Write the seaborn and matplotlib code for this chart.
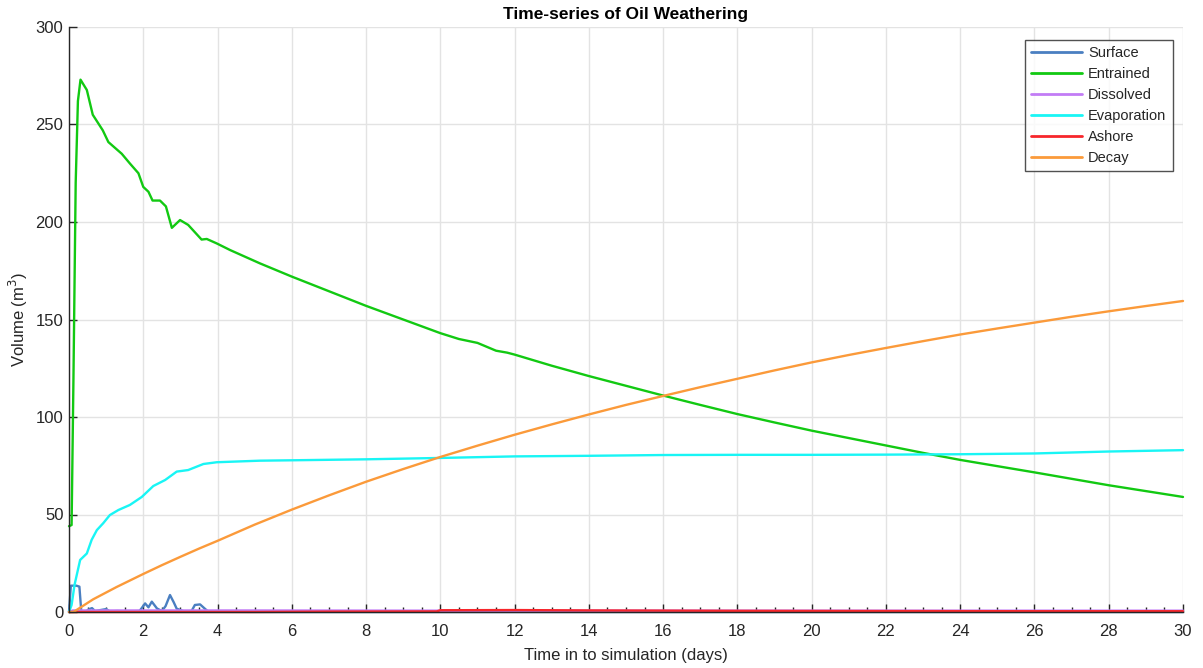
import numpy as np
import pandas as pd
import matplotlib
matplotlib.use("Agg")
import matplotlib.pyplot as plt
from matplotlib.ticker import MultipleLocator
import seaborn as sns

# ---------------- data ----------------
surface_t = [0.0, 0.05, 0.1, 0.2, 0.28, 0.33, 0.45, 0.55, 0.62, 0.7, 0.85, 1.0, 1.1, 1.3, 1.6, 1.9,
             2.05, 2.14, 2.23, 2.37, 2.5, 2.6, 2.72, 2.82, 2.9, 3.1, 3.3, 3.39, 3.53, 3.67, 3.75, 4.0,
             6.0, 10.0, 15.0, 20.0, 25.0, 30.0]
surface_v = [0.0, 13.5, 13.5, 13.5, 13.0, 0.5, 0.3, 1.5, 2.0, 0.5, 1.0, 1.5, 0.3, 0.5, 0.3, 0.5,
             4.4, 2.4, 5.3, 1.8, 0.5, 3.0, 8.7, 5.0, 1.7, 0.3, 0.5, 3.6, 3.9, 1.5, 0.2, 0.1,
             0.0, 0.0, 0.0, 0.0, 0.0, 0.0]

entrained_t = [0.0, 0.07, 0.12, 0.18, 0.24, 0.31, 0.48, 0.64, 0.91, 1.06, 1.42, 1.64, 1.87, 2.0,
               2.14, 2.25, 2.45, 2.61, 2.77, 2.99, 3.21, 3.57, 3.71, 3.98, 4.34, 5.14, 6.0, 7.0,
               8.0, 9.0, 10.0, 10.5, 11.0, 11.5, 11.8, 12.0, 13.0, 14.0, 15.0, 16.0, 17.0, 18.0,
               19.0, 20.0, 21.0, 22.0, 23.0, 24.0, 25.0, 26.0, 27.0, 28.0, 29.0, 30.0]
entrained_v = [44.0, 44.6, 120.0, 220.0, 262.0, 273.0, 267.7, 255.0, 247.0, 241.0, 235.0, 230.0,
               225.0, 218.0, 215.5, 211.0, 211.0, 208.0, 197.0, 201.0, 198.5, 191.0, 191.3,
               189.0, 185.6, 178.8, 172.0, 164.5, 157.0, 150.0, 143.0, 140.0, 138.0, 134.0,
               133.0, 132.0, 126.3, 121.0, 116.0, 111.0, 106.2, 101.5, 97.2, 93.0, 89.2, 85.4,
               81.6, 78.0, 74.8, 71.6, 68.3, 65.0, 62.0, 59.0]

dissolved_t = [0.0, 0.1, 5.0, 10.0, 15.0, 20.0, 25.0, 30.0]
dissolved_v = [0.0, 0.8, 0.8, 0.7, 0.7, 0.7, 0.7, 0.7]

evaporation_t = [0.0, 0.07, 0.15, 0.3, 0.48, 0.61, 0.75, 0.92, 1.1, 1.33, 1.64, 1.96, 2.27, 2.59,
                 2.9, 3.21, 3.62, 3.98, 5.14, 6.0, 8.0, 10.0, 12.0, 14.0, 16.0, 18.0, 20.0, 22.0,
                 24.0, 26.0, 28.0, 30.0]
evaporation_v = [0.0, 3.6, 14.0, 26.7, 30.0, 37.0, 42.0, 45.5, 49.7, 52.3, 54.9, 59.0, 64.6, 67.7,
                 72.0, 72.8, 75.9, 76.8, 77.6, 77.8, 78.3, 79.0, 79.8, 80.1, 80.5, 80.6, 80.6,
                 80.7, 80.9, 81.3, 82.3, 83.0]

ashore_t = [0.0, 5.0, 7.0, 9.9, 10.0, 12.0, 14.0, 18.0, 22.0, 26.0, 30.0]
ashore_v = [0.0, 0.0, 0.2, 0.3, 0.9, 1.0, 0.8, 0.6, 0.5, 0.4, 0.4]

decay_t = [0.0, 0.12, 0.65, 1.28, 2.0, 2.5, 3.0, 3.5, 4.0, 5.0, 6.0, 7.0, 8.0, 9.0, 10.0, 11.0,
           12.0, 13.0, 14.0, 15.0, 16.0, 17.0, 18.0, 19.0, 20.0, 21.0, 22.0, 23.0, 24.0, 25.0,
           26.0, 27.0, 28.0, 29.0, 30.0]
decay_v = [0.0, 0.0, 6.5, 12.8, 19.5, 24.0, 28.3, 32.5, 36.5, 44.8, 52.5, 59.8, 66.8, 73.3, 79.5,
           85.3, 90.9, 96.2, 101.3, 106.2, 110.8, 115.3, 119.6, 123.9, 128.0, 131.8, 135.4,
           138.9, 142.3, 145.4, 148.4, 151.4, 154.2, 156.9, 159.5]

series_names = ["Surface", "Entrained", "Dissolved", "Evaporation", "Ashore", "Decay"]
series_colors = ["#4a7fc1", "#12c912", "#c27cf5", "#19f5f5", "#f7262b", "#fb9a3a"]

# ---------------- plot ----------------
sns.set_theme(style="white")
plt.rcParams["font.family"] = ["Liberation Sans", "DejaVu Sans"]

fig = plt.figure(figsize=(12.03, 6.68), dpi=100)
ax = fig.add_axes([69 / 1203, 56 / 668, 1114 / 1203, 585 / 668])

data = [(surface_t, surface_v), (entrained_t, entrained_v), (dissolved_t, dissolved_v),
        (evaporation_t, evaporation_v), (ashore_t, ashore_v), (decay_t, decay_v)]

for (t, v), name, col in zip(data, series_names, series_colors):
    df = pd.DataFrame({"t": t, "v": v})
    sns.lineplot(data=df, x="t", y="v", ax=ax, color=col, label=name, linewidth=1.7,
                 estimator=None, clip_on=False)

ax.set_xlim(0, 30)
ax.set_ylim(0, 300)
ax.xaxis.set_major_locator(MultipleLocator(2))
ax.xaxis.set_minor_locator(MultipleLocator(0.5))
ax.yaxis.set_major_locator(MultipleLocator(50))

ax.grid(True, which="major", color="#e3e3e3", linewidth=1.0)
ax.set_axisbelow(True)
for s in ["top", "right"]:
    ax.spines[s].set_visible(False)
for s in ["left", "bottom"]:
    ax.spines[s].set_color("#262626")
    ax.spines[s].set_linewidth(1.0)

ax.tick_params(axis="both", which="major", direction="in", length=6, width=1.0,
               colors="#262626", labelsize=12)
ax.tick_params(axis="x", which="major", pad=9)
ax.tick_params(axis="y", which="major", pad=4)
ax.tick_params(axis="x", which="minor", direction="in", length=3.5, width=1.0, colors="#262626")
ax.tick_params(axis="x", which="both", bottom=True)
ax.tick_params(axis="y", which="both", left=True)

ax.set_xlabel("Time in to simulation (days)", fontsize=12, color="#262626", labelpad=6)
ax.set_ylabel("Volume (m$^3$)", fontsize=12, color="#262626", labelpad=4)
ax.set_title("Time-series of Oil Weathering", fontsize=12.5, fontweight="bold", color="black", pad=6)

leg = ax.legend(loc="upper right", bbox_to_anchor=(0.991, 0.978), borderaxespad=0,
                fontsize=10.5, frameon=True, fancybox=False, handlelength=3.5,
                handletextpad=0.4, labelspacing=0.47, borderpad=0.45)
leg.get_frame().set_edgecolor("#262626")
leg.get_frame().set_linewidth(1.0)
for line in leg.get_lines():
    line.set_linewidth(2.0)

fig.savefig("out.png", dpi=100)
